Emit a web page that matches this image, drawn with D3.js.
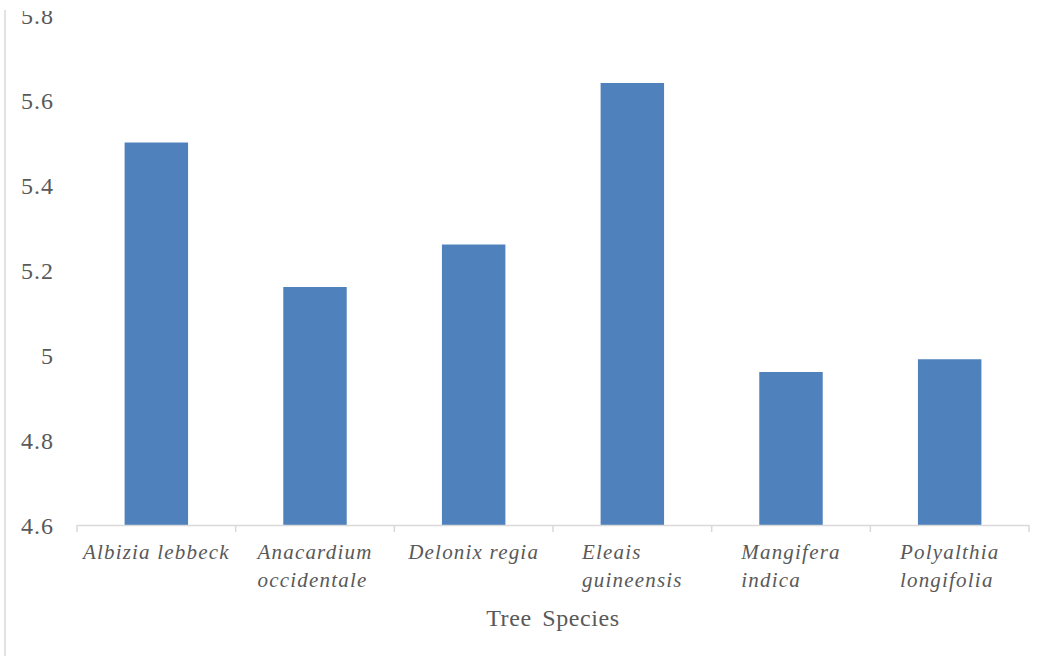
<!DOCTYPE html>
<html>
<head>
<meta charset="utf-8">
<script src="https://cdn.jsdelivr.net/npm/d3@7"></script>
<style>
  html, body { margin: 0; padding: 0; background: #fff; }
  svg { display: block; }
</style>
</head>
<body>
<svg id="chart" width="1053" height="658"></svg>
<script>
const categories = ["Albizia lebbeck", "Anacardium occidentale", "Delonix regia", "Eleais guineensis", "Mangifera indica", "Polyalthia longifolia"];
const values = [5.50, 5.16, 5.26, 5.64, 4.96, 4.99];
const yTicks = [4.6, 4.8, 5, 5.2, 5.4, 5.6, 5.8];
const xTitle = "Tree Species";

const svg = d3.select("#chart");
const serif = "'Liberation Serif', 'Times New Roman', serif";
const textColor = "#595959";
const axisColor = "#d9d9d9";

svg.append("defs").append("clipPath").attr("id", "topclip")
  .append("rect").attr("x", 0).attr("y", 11).attr("width", 1053).attr("height", 647);

// left border line
svg.append("line")
  .attr("x1", 5).attr("x2", 5).attr("y1", 10).attr("y2", 656)
  .attr("stroke", axisColor).attr("stroke-width", 1.5);

const x = d3.scaleBand().domain(categories).range([77, 1029]).paddingInner(0.6).paddingOuter(0.3);
const y = d3.scaleLinear().domain([4.6, 5.8]).range([525, 15]);

// y tick labels (no axis line)
const yAxis = svg.append("g").attr("clip-path", "url(#topclip)")
  .append("g").attr("transform", "translate(54,0)")
  .call(d3.axisLeft(y).tickValues(yTicks).tickSize(0).tickPadding(0).tickFormat(d3.format("")));
yAxis.select(".domain").remove();
yAxis.selectAll("text")
  .attr("font-family", serif).attr("font-size", 24).attr("fill", textColor)
  .style("letter-spacing", "1px").attr("dy", "0.34em");

// bars
svg.append("g").selectAll("rect").data(values).join("rect")
  .attr("x", (d, i) => x(categories[i]))
  .attr("width", x.bandwidth())
  .attr("y", d => y(d))
  .attr("height", d => y(4.6) - y(d))
  .attr("fill", "#4f81bd");

// x axis line and ticks at category boundaries
const step = x.step();
const xr = x.range();
svg.append("line").attr("x1", xr[0]).attr("x2", xr[1]).attr("y1", 525.5).attr("y2", 525.5)
  .attr("stroke", axisColor).attr("stroke-width", 1.5);
const bounds = d3.range(categories.length + 1).map(i => xr[0] + i * step);
svg.append("g").selectAll("line").data(bounds).join("line")
  .attr("x1", d => d).attr("x2", d => d).attr("y1", 525).attr("y2", 532)
  .attr("stroke", axisColor).attr("stroke-width", 1.5);

// category labels, wrapped, block centered, lines left-aligned
const maxW = step - 4;
const labelG = svg.append("g");
categories.forEach((c, i) => {
  const cx = x(c) + x.bandwidth() / 2;
  const t = labelG.append("text")
    .attr("font-family", serif).attr("font-size", 21).attr("font-style", "italic")
    .attr("fill", textColor).style("letter-spacing", "1.2px");
  const words = c.split(" ");
  let lines = [];
  let cur = [];
  const probe = t.append("tspan");
  words.forEach(w => {
    const test = cur.concat([w]).join(" ");
    probe.text(test);
    if (probe.node().getComputedTextLength() > maxW && cur.length) {
      lines.push(cur.join(" ")); cur = [w];
    } else cur.push(w);
  });
  lines.push(cur.join(" "));
  probe.remove();
  let widest = 0;
  lines.forEach(l => {
    const tmp = t.append("tspan").text(l);
    widest = Math.max(widest, tmp.node().getComputedTextLength());
    tmp.remove();
  });
  const left = cx - widest / 2;
  lines.forEach((l, j) => {
    t.append("tspan").attr("x", left).attr("y", 559 + j * 28).text(l);
  });
});

// axis title
svg.append("text")
  .attr("x", (xr[0] + xr[1]) / 2).attr("y", 626)
  .attr("text-anchor", "middle")
  .attr("font-family", serif).attr("font-size", 24).attr("fill", textColor)
  .style("letter-spacing", "0.6px").style("word-spacing", "4px")
  .text(xTitle);
</script>
</body>
</html>
